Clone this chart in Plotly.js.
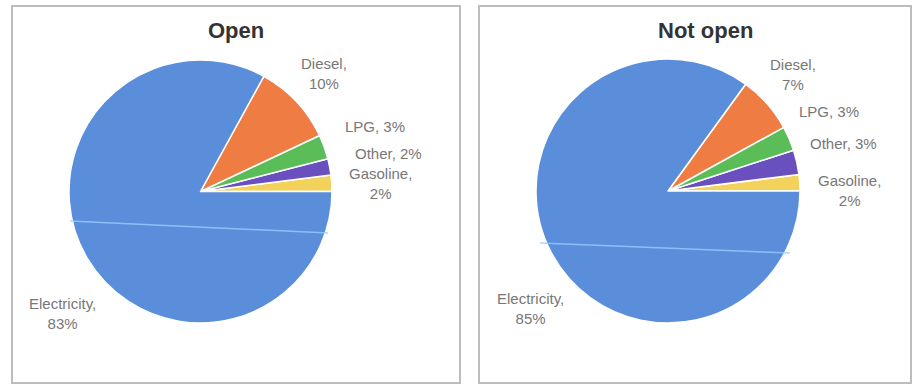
<!DOCTYPE html>
<html>
<head>
<meta charset="utf-8">
<script src="https://cdn.plot.ly/plotly-3.0.1.min.js"></script>
<style>html,body{margin:0;padding:0;background:#fff;}#chart{width:914px;height:386px;}</style>
</head>
<body>
<div id="chart"></div>
<script>
// Data
const fuels = ["Gasoline", "Other", "LPG", "Diesel", "Electricity"];
const openValues = [2, 2, 3, 10, 83];
const notOpenValues = [2, 3, 3, 7, 85];
const panelTitles = ["Open", "Not open"];

const colors = ["#f3d25c", "#6a50bf", "#5bbd58", "#ef7c43", "#5a8edb"];
const W = 914, H = 386;
const px = x => x / W;
const py = y => 1 - y / H;

function pieDomain(cx, cy, r) {
  return { x: [px(cx - r), px(cx + r)], y: [py(cy + r), py(cy - r)] };
}
const sum = a => a.reduce((s, v) => s + v, 0);

const traces = [
  { values: openValues, dom: pieDomain(200.5, 191.5, 131.5) },
  { values: notOpenValues, dom: pieDomain(668, 191, 132) }
].map(p => ({
  type: "pie",
  labels: fuels,
  values: p.values,
  sort: false,
  direction: "counterclockwise",
  rotation: 90 - 360 * p.values[0] / sum(p.values),
  domain: p.dom,
  textinfo: "none",
  hoverinfo: "label+percent",
  marker: { colors: colors, line: { color: "#ffffff", width: 1.5 } },
  showlegend: false
}));

// Label positions (layout only)
const labelPos = [
  // Open
  { Gasoline: [380, 183, true], Other: [388, 153, false], LPG: [375, 126, false], Diesel: [324, 73, true], Electricity: [62, 313, true] },
  // Not open
  { Gasoline: [849, 190, true], Other: [843, 143, false], LPG: [829, 112, false], Diesel: [793, 74, true], Electricity: [530, 308, true] }
];
const panelValues = [openValues, notOpenValues];

const annotations = [];
panelValues.forEach((vals, pi) => {
  fuels.forEach((f, i) => {
    const [x, y, twoLine] = labelPos[pi][f];
    annotations.push({
      xref: "paper", yref: "paper", x: px(x), y: py(y),
      xanchor: "center", yanchor: "middle", showarrow: false,
      text: f + "," + (twoLine ? "<br>" : " ") + vals[i] + "%",
      font: { family: "Liberation Sans, Arial, sans-serif", size: 15, color: "#777777" }
    });
  });
});
[[236, 30], [705, 30]].forEach((pos, i) => {
  annotations.push({
    xref: "paper", yref: "paper", x: px(pos[0]), y: py(pos[1]),
    xanchor: "center", yanchor: "middle", showarrow: false,
    text: "<b>" + panelTitles[i] + "</b>",
    font: { family: "Liberation Sans, Arial, sans-serif", size: 22, color: "#333333" }
  });
});

const shapes = [
  { type: "rect", xref: "paper", yref: "paper", x0: px(12), x1: px(460), y0: py(383), y1: py(6), line: { color: "#bdbdbd", width: 2 } },
  { type: "rect", xref: "paper", yref: "paper", x0: px(479), x1: px(911), y0: py(383), y1: py(6), line: { color: "#bdbdbd", width: 2 } },
  { type: "line", xref: "paper", yref: "paper", x0: px(70), y0: py(221), x1: px(328), y1: py(233), line: { color: "rgba(150,205,255,0.8)", width: 1.5 }, layer: "above" },
  { type: "line", xref: "paper", yref: "paper", x0: px(540), y0: py(243), x1: px(790), y1: py(253), line: { color: "rgba(150,205,255,0.8)", width: 1.5 }, layer: "above" }
];

const layout = {
  width: W, height: H,
  margin: { l: 0, r: 0, t: 0, b: 0 },
  paper_bgcolor: "#ffffff",
  plot_bgcolor: "#ffffff",
  showlegend: false,
  annotations: annotations,
  shapes: shapes
};

Plotly.newPlot("chart", traces, layout, { displayModeBar: false, staticPlot: true });
</script>
</body>
</html>
